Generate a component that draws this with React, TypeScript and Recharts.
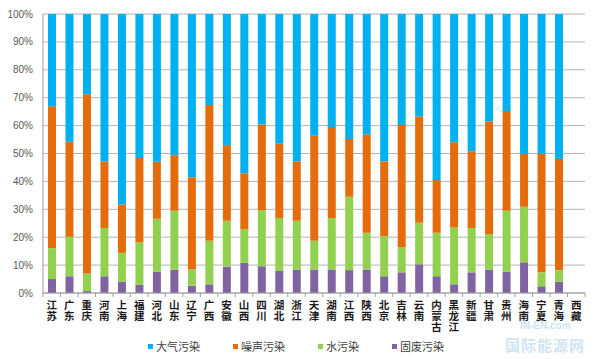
import { BarChart, Bar, XAxis, YAxis, CartesianGrid, Legend } from 'recharts'

const categories = ['江苏', '广东', '重庆', '河南', '上海', '福建', '河北', '山东', '辽宁', '广西', '安徽', '山西', '四川', '湖北', '浙江', '天津', '湖南', '江西', '陕西', '北京', '吉林', '云南', '内蒙古', '黑龙江', '新疆', '甘肃', '贵州', '海南', '宁夏', '青海', '西藏']

// percentages, bottom to top
const solidWaste = [5, 6, 0.7, 6, 4.1, 2.9, 7.7, 8.4, 2.6, 3.1, 9.4, 10.8, 9.6, 7.9, 8.4, 8.4, 8.4, 8.2, 8.4, 6, 7.4, 10.3, 6, 3.1, 7.4, 8.4, 7.7, 11, 2.4, 4.1, 0]
const water = [11.1, 14.2, 6.3, 17.3, 10.3, 15.3, 18.9, 21.1, 5.8, 15.6, 16.5, 12, 20.1, 19, 17.5, 10.3, 18.5, 26.3, 13.2, 14.4, 9.1, 14.9, 15.6, 20.4, 15.9, 12.7, 21.8, 19.9, 5, 4.1, 0]
const noise = [50.8, 34, 64.2, 23.9, 17.3, 30.2, 20.4, 19.9, 33.1, 48.7, 27.1, 20.1, 30.7, 26.6, 21.3, 37.7, 32.6, 20.7, 35.2, 26.8, 43.7, 38.1, 18.9, 30.5, 27.5, 40.5, 35.7, 19, 42.5, 39.8, 0]
const air = [33.1, 45.8, 28.8, 52.8, 68.3, 51.6, 53, 50.6, 58.5, 32.6, 47, 57.1, 39.6, 46.5, 52.8, 43.6, 40.5, 44.8, 43.2, 52.8, 39.8, 36.7, 59.5, 46, 49.2, 38.4, 34.8, 50.1, 50.1, 52, 0]

const yTicks = [0, 10, 20, 30, 40, 50, 60, 70, 80, 90, 100]

const series = [
  { key: 'air', name: '大气污染', color: '#00b0f0' },
  { key: 'noise', name: '噪声污染', color: '#e46c0a' },
  { key: 'water', name: '水污染', color: '#92d050' },
  { key: 'solid', name: '固废污染', color: '#8064a2' },
]

const data = categories.map((name, i) => ({
  name,
  solid: solidWaste[i],
  water: water[i],
  noise: noise[i],
  air: air[i],
}))

const PLOT_LEFT = 43
const PLOT_RIGHT = 585
const STEP = (PLOT_RIGHT - PLOT_LEFT) / categories.length

function CategoryTick(props: { x?: number; y?: number; index?: number; payload?: { value: string } }) {
  const { x = 0, y = 0, index = 0, payload } = props
  const chars = Array.from(payload?.value ?? '')
  return (
    <g>
      <line x1={x - STEP / 2} x2={x - STEP / 2} y1={y} y2={y + 4} stroke="#a0a0a0" />
      {index === categories.length - 1 && (
        <line x1={x + STEP / 2} x2={x + STEP / 2} y1={y} y2={y + 4} stroke="#a0a0a0" />
      )}
      <text x={x} y={y + 16} textAnchor="middle" fontSize={10.5} fontWeight="bold" fill="#1a1a1a"
        fontFamily="'Noto Sans CJK SC', sans-serif">
        {chars.map((c, i) => (
          <tspan key={i} x={x} dy={i === 0 ? 0 : 11}>{c}</tspan>
        ))}
      </text>
    </g>
  )
}

function LegendContent() {
  return (
    <div style={{ display: 'flex', alignItems: 'center', whiteSpace: 'nowrap', fontFamily: "'Noto Sans CJK SC', sans-serif", fontSize: 11, lineHeight: '14px', color: '#404040' }}>
      {series.map(s => (
        <div key={s.key} style={{ display: 'flex', alignItems: 'center', flexShrink: 0, marginRight: 33 }}>
          <span style={{ width: 5, height: 5, background: s.color, marginRight: 3, display: 'inline-block' }} />
          <span>{s.name}</span>
        </div>
      ))}
    </div>
  )
}

export default function App() {
  return (
    <div style={{ position: 'absolute', left: 0, top: 0, width: 600, height: 359, background: '#fff' }}>
      <BarChart
        width={600}
        height={359}
        data={data}
        margin={{ top: 14, right: 600 - PLOT_RIGHT, left: 0, bottom: 0 }}
        barCategoryGap={0}
      >
        <CartesianGrid vertical={false} stroke="#b4b4b4" />
        <XAxis
          dataKey="name"
          interval={0}
          height={66}
          tickSize={0}
          tickMargin={0}
          tickLine={false}
          axisLine={{ stroke: '#a0a0a0' }}
          tick={<CategoryTick />}
        />
        <YAxis
          width={PLOT_LEFT}
          domain={[0, 100]}
          ticks={yTicks}
          tickFormatter={v => `${v}%`}
          tickLine={false}
          axisLine={{ stroke: '#a0a0a0' }}
          tickMargin={4}
          tick={{ fill: '#595959', fontSize: 10, fontFamily: "'Liberation Sans', Arial, sans-serif" }}
        />
        <Legend
          layout="horizontal"
          verticalAlign="middle"
          align="center"
          content={<LegendContent />}
          wrapperStyle={{ position: 'absolute', left: 148, top: 339, width: 330 }}
        />
        <Bar dataKey="solid" name="固废污染" stackId="a" fill="#8064a2" barSize={8} isAnimationActive={false} />
        <Bar dataKey="water" name="水污染" stackId="a" fill="#92d050" barSize={8} isAnimationActive={false} />
        <Bar dataKey="noise" name="噪声污染" stackId="a" fill="#e46c0a" barSize={8} isAnimationActive={false} />
        <Bar dataKey="air" name="大气污染" stackId="a" fill="#00b0f0" barSize={8} isAnimationActive={false} />
      </BarChart>
      <div style={{ position: 'absolute', left: 520, top: 320, fontFamily: 'Arial, sans-serif', fontSize: 10, fontWeight: 'bold', color: '#c9e4f2' }}>
        IN-EN.com
      </div>
      <div style={{ position: 'absolute', left: 505, top: 334, fontFamily: "'Noto Sans CJK SC', sans-serif", fontSize: 15, fontWeight: 'bold', color: '#cfe6f3', letterSpacing: 1 }}>
        国际能源网
      </div>
    </div>
  )
}
